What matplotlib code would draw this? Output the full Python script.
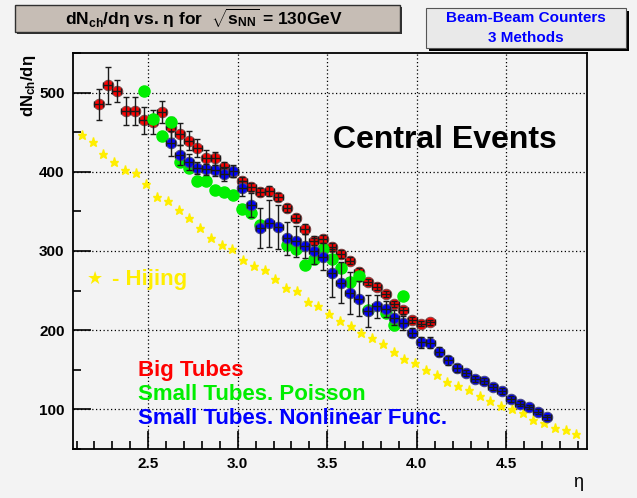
import matplotlib
matplotlib.use("Agg")
import matplotlib.pyplot as plt
from matplotlib.patches import Rectangle
from matplotlib.ticker import MultipleLocator

plt.rcParams['font.family'] = ['Liberation Sans', 'DejaVu Sans']
plt.rcParams['mathtext.fontset'] = 'custom'
plt.rcParams['mathtext.rm'] = 'Liberation Sans'
plt.rcParams['mathtext.bf'] = 'Liberation Sans:bold'
plt.rcParams['mathtext.it'] = 'Liberation Sans:italic'
plt.rcParams['mathtext.default'] = 'bf'

# Big Tubes (red)
big_eta = [2.225, 2.275, 2.325, 2.375, 2.425, 2.475, 2.525, 2.575, 2.625, 2.675,
           2.725, 2.775, 2.825, 2.875, 2.925, 2.975, 3.025, 3.075, 3.125, 3.175,
           3.225, 3.275, 3.325, 3.375, 3.425, 3.475, 3.525, 3.575, 3.625, 3.675,
           3.725, 3.775, 3.825, 3.875, 3.925, 3.975, 4.025, 4.075]
big_dn = [485, 509, 502, 477, 477, 465, 463, 475, 456, 448,
          439, 430, 418, 417, 406, 400, 389, 381, 374, 376,
          368, 354, 342, 328, 313, 315, 305, 296, 288, 274,
          261, 255, 246, 233, 225, 213, 208, 210]
big_err = [20, 23, 14, 18, 18, 17, 15, 14, 13, 14,
           12, 11, 9, 8, 7, 6, 5, 5, 5, 6,
           5, 5, 5, 6, 6, 5, 5, 5, 5, 5,
           4, 4, 4, 4, 4, 4, 3, 3]

# Small Tubes, Poisson (green)
poi_eta = [2.475, 2.525, 2.575, 2.625, 2.675, 2.725, 2.775, 2.825, 2.875, 2.925,
           2.975, 3.025, 3.075, 3.125, 3.275, 3.325, 3.375, 3.425, 3.475, 3.525,
           3.575, 3.625, 3.675, 3.725, 3.825, 3.875, 3.925]
poi_dn = [502, 467, 445, 463, 413, 405, 388, 388, 377, 375,
          371, 353, 348, 333, 307, 303, 282, 290, 303, 290,
          278, 261, 268, 226, 222, 206, 243]

# Small Tubes, Nonlinear Func. (blue)
nl_eta = [2.625, 2.675, 2.725, 2.775, 2.825, 2.875, 2.925, 2.975, 3.025, 3.075,
          3.125, 3.175, 3.225, 3.275, 3.325, 3.375, 3.425, 3.475, 3.525, 3.575,
          3.625, 3.675, 3.725, 3.775, 3.825, 3.875, 3.925, 3.975, 4.025, 4.075,
          4.125, 4.175, 4.225, 4.275, 4.325, 4.375, 4.425, 4.475, 4.525, 4.575,
          4.625, 4.675, 4.725]
nl_dn = [436, 421, 412, 405, 403, 402, 397, 401, 379, 358,
         329, 335, 330, 316, 312, 306, 300, 293, 272, 260,
         247, 240, 224, 230, 227, 216, 209, 197, 185, 184,
         173, 162, 152, 146, 138, 136, 128, 123, 113, 107,
         103, 97, 90]
nl_err = [16, 13, 10, 8, 7, 7, 8, 8, 10, 15,
          25, 30, 28, 21, 19, 15, 17, 17, 30, 26,
          27, 22, 20, 14, 10, 9, 9, 6, 7, 7,
          6, 6, 5, 4, 4, 4, 4, 4, 4, 3,
          3, 3, 3]

# Hijing (yellow stars)
hij_eta = [2.13, 2.19, 2.25, 2.31, 2.37, 2.43, 2.49, 2.55, 2.61, 2.67,
           2.73, 2.79, 2.85, 2.91, 2.97, 3.03, 3.09, 3.15, 3.21, 3.27,
           3.33, 3.39, 3.45, 3.51, 3.57, 3.63, 3.69, 3.75, 3.81, 3.87,
           3.93, 3.99, 4.05, 4.11, 4.17, 4.23, 4.29, 4.35, 4.41, 4.47,
           4.53, 4.59, 4.65, 4.71, 4.77, 4.83, 4.89]
hij_dn = [447, 437, 423, 412, 402, 398, 384, 368, 363, 352,
          342, 329, 317, 308, 302, 289, 281, 276, 265, 253,
          250, 236, 230, 220, 211, 205, 196, 190, 183, 173,
          164, 158, 150, 144, 134, 129, 124, 117, 111, 104,
          101, 96, 87, 83, 76, 74, 69]

W, H = 637, 498
bg = '#f3f3f3'
fig = plt.figure(figsize=(W / 100, H / 100), dpi=100, facecolor=bg)
ax = fig.add_axes([73 / W, 1 - 449 / H, (587 - 73) / W, (449 - 53) / H])
ax.set_facecolor(bg)

ax.plot(hij_eta, hij_dn, ls='none', marker='*', ms=6.5, color='#ffee00',
        mec='#ffee00', zorder=3)

ax.plot(big_eta, big_dn, ls='none', marker='o', ms=7.5, color='#ff0000',
        mec='#8a4a4a', mew=0.8, zorder=4)
ax.errorbar(big_eta, big_dn, yerr=big_err, xerr=0.025, fmt='none',
            ecolor='#1a1a1a', elinewidth=1.0, capsize=2.5, capthick=1.0, zorder=5)

ax.plot(poi_eta, poi_dn, ls='none', marker='o', ms=8, color='#00ee00',
        mec='#00ee00', zorder=6)

ax.plot(nl_eta, nl_dn, ls='none', marker='o', ms=7.5, color='#0000ff',
        mec='#4a4a8a', mew=0.8, zorder=7)
ax.errorbar(nl_eta, nl_dn, yerr=nl_err, xerr=0.025, fmt='none',
            ecolor='#1a1a1a', elinewidth=1.0, capsize=2.5, capthick=1.0, zorder=8)

ax.set_xlim(2.08, 4.95)
ax.set_ylim(50, 550)
ax.xaxis.set_major_locator(MultipleLocator(0.5))
ax.xaxis.set_minor_locator(MultipleLocator(0.1))
ax.yaxis.set_major_locator(MultipleLocator(100))
ax.yaxis.set_minor_locator(MultipleLocator(50))
ax.tick_params(which='both', direction='in', top=False, right=False, width=1.2)
ax.tick_params(which='major', length=13, labelsize=11, pad=6)
ax.tick_params(which='minor', length=6)
for lab in ax.get_xticklabels() + ax.get_yticklabels():
    lab.set_fontweight('bold')
ax.grid(True, which='major', color='black', ls=(0, (1, 2)), lw=0.9)
ax.set_axisbelow(True)
for sp in ax.spines.values():
    sp.set_linewidth(1.3)

# texts inside the frame
fig.text(445 / W, 1 - 140 / H, 'Central Events', fontsize=23, fontweight='bold',
         ha='center', va='center', color='black')
fig.text(95 / W, 1 - 279 / H, '\u2605', fontsize=13, color='#ffee00',
         ha='center', va='center', family=['DejaVu Sans'])
fig.text(112 / W, 1 - 279 / H, '- Hijing', fontsize=16, fontweight='bold',
         ha='left', va='center', color='#ffee00')
fig.text(138 / W, 1 - 370 / H, 'Big Tubes', fontsize=16, fontweight='bold',
         ha='left', va='center', color='#ff0000')
fig.text(138 / W, 1 - 394 / H, 'Small Tubes. Poisson', fontsize=16,
         fontweight='bold', ha='left', va='center', color='#00ee00')
fig.text(138 / W, 1 - 418 / H, 'Small Tubes. Nonlinear Func.', fontsize=16,
         fontweight='bold', ha='left', va='center', color='#0000ff')

# axis titles
fig.text(29 / W, 1 - 55 / H, 'dN$_{ch}$/d\u03b7', rotation=90,
         fontsize=12, fontweight='bold', ha='center', va='top')
fig.text(578 / W, 1 - 482 / H, '\u03b7', fontsize=13, ha='center', va='center')

# title box
fig.patches.append(Rectangle((17 / W, 1 - 34 / H), 385 / W, 27 / H,
                             transform=fig.transFigure, facecolor='#303030',
                             edgecolor='none', zorder=1))
fig.patches.append(Rectangle((15 / W, 1 - 32 / H), 385 / W, 27 / H,
                             transform=fig.transFigure, facecolor='#c6bdb5',
                             edgecolor='#303030', lw=1, zorder=2))
fig.text(204 / W, 1 - 18 / H,
         'dN$_{ch}$/d\u03b7 vs. \u03b7 for  $\\sqrt{s_{NN}}$ = 130GeV',
         fontsize=12.5, fontweight='bold', ha='center', va='center', zorder=3)

# info box
fig.patches.append(Rectangle((429 / W, 1 - 51 / H), 200 / W, 40 / H,
                             transform=fig.transFigure, facecolor='black',
                             edgecolor='none', zorder=1))
fig.patches.append(Rectangle((426 / W, 1 - 48 / H), 200 / W, 40 / H,
                             transform=fig.transFigure, facecolor='#e9e9e9',
                             edgecolor='#555555', lw=0.8, zorder=2))
fig.text(526 / W, 1 - 18.5 / H, 'Beam-Beam Counters', fontsize=11,
         fontweight='bold', color='#0000ff', ha='center', va='center', zorder=3)
fig.text(526 / W, 1 - 38.5 / H, '3 Methods', fontsize=11,
         fontweight='bold', color='#0000ff', ha='center', va='center', zorder=3)

fig.savefig('out.png', dpi=100, facecolor=bg)
